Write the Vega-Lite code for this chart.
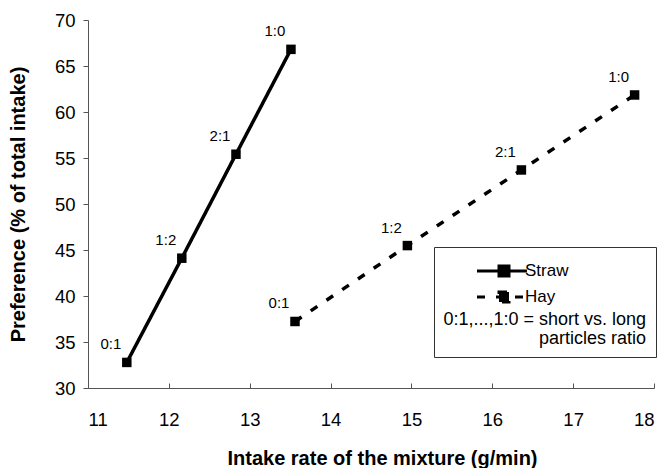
{
  "$schema": "https://vega.github.io/schema/vega-lite/v6.json",
  "width": 566,
  "height": 368,
  "autosize": "none",
  "padding": {"left": 88, "top": 20, "right": 7, "bottom": 80},
  "background": "white",
  "config": {
    "view": {"stroke": null},
    "font": "Liberation Sans",
    "axis": {
      "grid": false,
      "domainColor": "#555",
      "tickColor": "#555",
      "labelColor": "black",
      "titleColor": "black",
      "labelFontSize": 18.5,
      "titleFontSize": 20,
      "titleFontWeight": "bold",
      "labelFont": "Liberation Sans",
      "titleFont": "Liberation Sans"
    }
  },
  "data": {
    "values": [
      {"series": "Straw", "rate": 11.48, "pref": 32.78, "ratio": "0:1"},
      {"series": "Straw", "rate": 12.16, "pref": 44.11, "ratio": "1:2"},
      {"series": "Straw", "rate": 12.83, "pref": 55.41, "ratio": "2:1"},
      {"series": "Straw", "rate": 13.51, "pref": 66.81, "ratio": "1:0"},
      {"series": "Hay", "rate": 13.56, "pref": 37.23, "ratio": "0:1"},
      {"series": "Hay", "rate": 14.95, "pref": 45.48, "ratio": "1:2"},
      {"series": "Hay", "rate": 16.36, "pref": 53.70, "ratio": "2:1"},
      {"series": "Hay", "rate": 17.76, "pref": 61.85, "ratio": "1:0"}
    ]
  },
  "encoding": {
    "x": {
      "field": "rate",
      "type": "quantitative",
      "scale": {"domain": [11, 18], "nice": false, "zero": false},
      "axis": {
        "title": "Intake rate of the mixture (g/min)",
        "values": [11, 12, 13, 14, 15, 16, 17, 18],
        "tickSize": -5,
        "labelPadding": 27,
        "titlePadding": 20,
        "titleX": 294
      }
    },
    "y": {
      "field": "pref",
      "type": "quantitative",
      "scale": {"domain": [30, 70], "nice": false, "zero": false},
      "axis": {
        "title": "Preference (% of total intake)",
        "values": [30, 35, 40, 45, 50, 55, 60, 65, 70],
        "tickSize": 5,
        "labelPadding": 8,
        "titlePadding": 26
      }
    }
  },
  "layer": [
    {
      "mark": {"type": "line", "strokeWidth": 3.5, "color": "black"},
      "encoding": {
        "strokeDash": {
          "field": "series",
          "type": "nominal",
          "scale": {"domain": ["Straw", "Hay"], "range": [[1, 0], [8, 11]]},
          "legend": {
            "orient": "none",
            "legendX": 346,
            "legendY": 227,
            "strokeColor": "#333",
            "fillColor": "white",
            "padding": 9,
            "symbolType": "M-2,0L1.7,0M-0.37,-0.37H0.37V0.37H-0.37ZM10.1,0",
            "symbolSize": 729,
            "symbolStrokeWidth": 3,
            "symbolStrokeColor": "black",
            "symbolFillColor": "black",
            "symbolOffset": 44,
            "labelOffset": 6,
            "labelFontSize": 17,
            "labelColor": "black",
            "rowPadding": -4,
            "title": ["0:1,...,1:0 = short vs. long", "particles ratio"],
            "titleOrient": "bottom",
            "titleFontSize": 18,
            "titleFontWeight": "normal",
            "titleColor": "black",
            "titleAnchor": "end",
            "titleAlign": "right",
            "titleLineHeight": 18.5,
            "titlePadding": 3,
            "titleLimit": 300,
            "encode": {
              "symbols": {"update": {"fill": {"value": "black"}, "stroke": {"value": "black"}, "strokeWidth": {"value": 3}}}
            }
          }
        }
      }
    },
    {
      "mark": {"type": "point", "shape": "square", "filled": true, "size": 90, "color": "black", "opacity": 1}
    },
    {
      "mark": {"type": "text", "dx": -16, "dy": -18, "fontSize": 15, "color": "black", "align": "center", "baseline": "middle"},
      "encoding": {"text": {"field": "ratio"}}
    }
  ]
}
